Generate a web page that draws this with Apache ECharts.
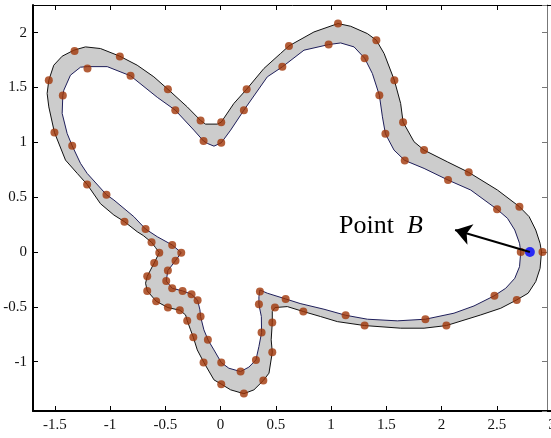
<!DOCTYPE html>
<html>
<head>
<meta charset="utf-8">
<script src="https://cdn.jsdelivr.net/npm/echarts@6/dist/echarts.min.js"></script>
<style>html,body{margin:0;padding:0;background:#fff}#c{width:551px;height:438px}</style>
</head>
<body>
<div id="c"></div>
<script>
// ---- data ----
const xTicks = [-1.5, -1, -0.5, 0, 0.5, 1, 1.5, 2, 2.5, 3];
const yTicks = [-1, -0.5, 0, 0.5, 1, 1.5, 2];

const outerCurve = [
[-1.087,0.44],[-1.208,0.616],[-1.298,0.717],[-1.404,0.838],[-1.504,1.09],[-1.555,1.323],[-1.570,1.445],[-1.555,1.566],[-1.51,1.703],[-1.434,1.785],[-1.328,1.84],[-1.223,1.87],[-1.087,1.855],[-0.912,1.785],[-0.755,1.703],[-0.604,1.597],[-0.477,1.484],[-0.302,1.323],[-0.181,1.199],[-0.136,1.166],[-0.03,1.166],[0.006,1.184],[0.12,1.354],[0.236,1.484],[0.392,1.673],[0.543,1.81],[0.619,1.879],[0.845,2.006],[1.063,2.083],[1.178,2.058],[1.329,1.991],[1.41,1.931],[1.48,1.81],[1.573,1.566],[1.63,1.354],[1.652,1.184],[1.751,1.005],[1.842,0.929],[2.053,0.822],[2.246,0.726],[2.506,0.565],[2.705,0.413],[2.793,0.322],[2.853,0.2],[2.892,0.079],[2.905,0],[2.892,-0.149],[2.853,-0.27],[2.784,-0.376],[2.681,-0.437],[2.536,-0.513],[2.355,-0.574],[2.044,-0.671],[1.842,-0.695],[1.63,-0.695],[1.304,-0.671],[1.057,-0.635],[0.906,-0.589],[0.749,-0.543],[0.604,-0.498],[0.492,-0.507],[0.468,-0.543],[0.468,-0.644],[0.458,-0.801],[0.468,-0.914],[0.438,-1.105],[0.387,-1.172],[0.302,-1.257],[0.211,-1.292],[0.091,-1.257],[0.006,-1.205],[-0.06,-1.166],[-0.151,-1.008],[-0.211,-0.893],[-0.247,-0.777],[-0.272,-0.71],[-0.302,-0.626],[-0.317,-0.574],[-0.369,-0.531],[-0.477,-0.507],[-0.583,-0.449],[-0.664,-0.355],[-0.679,-0.285],[-0.664,-0.222],[-0.634,-0.164],[-0.601,-0.1],[-0.555,-0.006],[-0.589,0.04],[-0.625,0.088],[-0.7,0.15],[-0.755,0.185],[-0.87,0.276],[-0.966,0.337]
];

const innerCurve = [
[-0.966,0.474],[-1.033,0.522],[-1.208,0.717],[-1.268,0.808],[-1.343,0.968],[-1.389,1.081],[-1.434,1.263],[-1.428,1.427],[-1.419,1.475],[-1.359,1.612],[-1.268,1.685],[-1.205,1.69],[-1.026,1.69],[-0.815,1.606],[-0.573,1.41],[-0.41,1.293],[-0.242,1.111],[-0.154,1.011],[-0.12,0.99],[-0.06,0.965],[0.006,0.995],[0.091,1.111],[0.211,1.293],[0.423,1.597],[0.559,1.688],[0.755,1.84],[0.978,1.891],[1.087,1.906],[1.208,1.87],[1.304,1.767],[1.374,1.627],[1.437,1.43],[1.465,1.232],[1.492,1.077],[1.57,0.929],[1.667,0.835],[1.842,0.762],[2.059,0.656],[2.264,0.565],[2.503,0.389],[2.597,0.307],[2.663,0.2],[2.706,0.079],[2.717,0],[2.706,-0.134],[2.663,-0.24],[2.581,-0.331],[2.476,-0.4],[2.294,-0.492],[2.113,-0.558],[1.854,-0.613],[1.6,-0.628],[1.329,-0.613],[1.132,-0.577],[0.936,-0.522],[0.72,-0.47],[0.589,-0.428],[0.423,-0.376],[0.356,-0.346],[0.347,-0.407],[0.347,-0.48],[0.369,-0.589],[0.371,-0.735],[0.347,-0.862],[0.32,-0.984],[0.256,-1.05],[0.181,-1.09],[0.075,-1.06],[0.006,-1.008],[-0.06,-0.893],[-0.112,-0.805],[-0.151,-0.71],[-0.181,-0.589],[-0.187,-0.528],[-0.208,-0.44],[-0.263,-0.385],[-0.344,-0.355],[-0.438,-0.331],[-0.492,-0.264],[-0.477,-0.17],[-0.408,-0.079],[-0.356,-0.006],[-0.438,0.064],[-0.573,0.139],[-0.679,0.209],[-0.785,0.322]
];

const outerPoints = [
[-1.555,1.566],[-1.322,1.833],[-0.912,1.782],[-0.477,1.484],[-0.181,1.199],[0.006,1.184],[0.236,1.484],[0.619,1.879],[1.063,2.083],[1.41,1.931],[1.573,1.566],[1.652,1.184],[1.842,0.929],[2.246,0.726],[2.705,0.413],[2.914,0],[2.681,-0.437],[2.044,-0.671],[1.304,-0.671],[0.749,-0.543],[0.492,-0.507],[0.468,-0.644],[0.468,-0.914],[0.387,-1.172],[0.211,-1.29],[0.006,-1.205],[-0.154,-1.008],[-0.247,-0.777],[-0.302,-0.626],[-0.369,-0.531],[-0.477,-0.507],[-0.583,-0.449],[-0.664,-0.355],[-0.664,-0.222],[-0.601,-0.1],[-0.555,-0.006],[-0.625,0.088],[-0.87,0.276],[-1.208,0.616],[-1.504,1.09]
];

const innerPoints = [
[-1.428,1.427],[-1.205,1.673],[-0.815,1.606],[-0.41,1.293],[-0.154,1.011],[0.006,0.995],[0.211,1.293],[0.559,1.688],[0.978,1.891],[1.304,1.767],[1.437,1.43],[1.492,1.077],[1.667,0.835],[2.059,0.656],[2.503,0.389],[2.717,0],[2.479,-0.4],[1.854,-0.613],[1.132,-0.577],[0.589,-0.428],[0.356,-0.361],[0.347,-0.477],[0.371,-0.735],[0.32,-0.984],[0.181,-1.09],[0.006,-1.008],[-0.115,-0.801],[-0.181,-0.589],[-0.208,-0.44],[-0.263,-0.385],[-0.344,-0.355],[-0.438,-0.331],[-0.492,-0.264],[-0.477,-0.17],[-0.408,-0.079],[-0.356,-0.006],[-0.438,0.064],[-0.679,0.209],[-1.033,0.522],[-1.343,0.968]
];

const pointB = [2.8, 0];
const arrowTip = [2.123, 0.2];
const annotation = ['Point', 'B'];

// ---- chart ----
const chart = echarts.init(document.getElementById('c'), null, {renderer: 'canvas'});
const FONT = 'Liberation Serif';
const xMin = -1.698, xMax = 3, yMin = -1.45, yMax = 2.252;
const labelFmt = ticks => v => ticks.some(t => Math.abs(t - v) < 1e-6) ? '{s|' + String(v) + '}' : '';
const labelRich = {s: {fontFamily: FONT, fontSize: 15, color: '#111', fontWeight: 'normal'}};

const option = {
  animation: false,
  backgroundColor: '#fff',
  textStyle: {fontFamily: FONT},
  grid: {left: 33, top: 5, width: 519, height: 406, outerBoundsMode: 'none', containLabel: false},
  xAxis: [{
    type: 'value', position: 'bottom', min: xMin, max: xMax, minInterval: 0.5, maxInterval: 0.5,
    axisLine: {show: true, onZero: false, lineStyle: {color: '#000', width: 2}},
    axisTick: {show: true, inside: true, length: 5, lineStyle: {color: '#000', width: 1}},
    axisLabel: {show: true, margin: 7, showMinLabel: false, showMaxLabel: true, formatter: labelFmt(xTicks), rich: labelRich, fontFamily: FONT, fontSize: 15, color: '#111'},
    splitLine: {show: false}
  }, {
    type: 'value', position: 'top', min: xMin, max: xMax, minInterval: 0.5, maxInterval: 0.5,
    axisLine: {show: true, onZero: false, lineStyle: {color: '#000', width: 1}},
    axisTick: {show: true, inside: true, length: 5, lineStyle: {color: '#000', width: 1}},
    axisLabel: {show: false}, splitLine: {show: false}
  }],
  yAxis: [{
    type: 'value', position: 'left', min: yMin, max: yMax, minInterval: 0.5, maxInterval: 0.5,
    axisLine: {show: true, onZero: false, lineStyle: {color: '#000', width: 2}},
    axisTick: {show: true, inside: true, length: 5, lineStyle: {color: '#000', width: 1}},
    axisLabel: {show: true, margin: 6, showMinLabel: false, showMaxLabel: false, formatter: labelFmt(yTicks), rich: labelRich, fontFamily: FONT, fontSize: 15, color: '#111'},
    splitLine: {show: false}
  }, {
    type: 'value', position: 'right', offset: -5, min: yMin, max: yMax, minInterval: 0.5, maxInterval: 0.5,
    axisLine: {show: true, onZero: false, lineStyle: {color: '#777', width: 1}},
    axisTick: {show: true, inside: true, length: 5, lineStyle: {color: '#777', width: 1}},
    axisLabel: {show: false}, splitLine: {show: false}
  }],
  series: [{
    type: 'custom',
    coordinateSystem: 'cartesian2d',
    xAxisIndex: 0, yAxisIndex: 0,
    data: [[0, 0]],
    clip: true,
    silent: true,
    z: 1,
    renderItem: function (params, api) {
      const o = outerCurve.map(p => api.coord(p));
      const i = innerCurve.map(p => api.coord(p));
      return {
        type: 'group',
        children: [
          {type: 'polygon', shape: {points: o}, style: {fill: '#cccccc', stroke: '#111111', lineWidth: 1}},
          {type: 'polygon', shape: {points: i}, style: {fill: '#ffffff', stroke: '#1e1e5a', lineWidth: 1}}
        ]
      };
    }
  }, {
    type: 'scatter', name: 'outer', data: outerPoints, symbol: 'circle', symbolSize: 8,
    itemStyle: {color: '#a03608'}, z: 3, silent: true
  }, {
    type: 'scatter', name: 'inner', data: innerPoints, symbol: 'circle', symbolSize: 8,
    itemStyle: {color: '#a03608'}, z: 3, silent: true
  }, {
    type: 'scatter', name: 'B', data: [pointB], symbol: 'circle', symbolSize: 10,
    itemStyle: {color: '#0000ff'}, z: 4, silent: true,
    markLine: {
      silent: true, animation: false,
      symbol: ['none', 'arrow'], symbolSize: 16,
      label: {show: false},
      lineStyle: {color: '#000', width: 2, type: 'solid'},
      emphasis: {disabled: true},
      data: [[{coord: pointB}, {coord: arrowTip}]]
    }
  }]
};
chart.setOption(option);

// annotation text
chart.setOption({
  graphic: [{
    type: 'text', left: 339, top: 213, z: 100, silent: true,
    style: {text: annotation[0], font: "26px 'Liberation Serif', serif", fill: '#000'}
  }, {
    type: 'text', left: 407, top: 213, z: 100, silent: true,
    style: {text: annotation[1], font: "italic 26px 'Liberation Serif', serif", fill: '#000'}
  }]
});
</script>
</body>
</html>
